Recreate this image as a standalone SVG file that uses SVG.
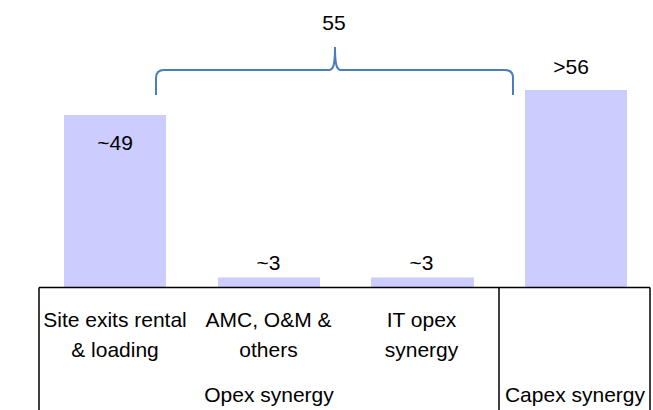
<svg xmlns="http://www.w3.org/2000/svg" width="653" height="410" viewBox="0 0 653 410">
<style>
.bar{fill:#CCCCFF;stroke:none}
.t{font-family:"Liberation Sans",Arial,sans-serif;font-size:21px;fill:#000;text-anchor:middle}
.grid{stroke:#000;stroke-width:1.5;fill:none}
.brace{stroke:#4A7EBB;stroke-width:2;fill:none}
</style>
<rect width="653" height="410" fill="#fff"/>
<g id="bar-site-exits">
<rect class="bar" x="64" y="115" width="102" height="172"/>
<text class="t" x="115" y="150">~49</text>
</g>
<g id="bar-amc">
<rect class="bar" x="218" y="277.5" width="102" height="9.5"/>
<text class="t" x="268.5" y="269.5">~3</text>
</g>
<g id="bar-it-opex">
<rect class="bar" x="371" y="277.5" width="103" height="9.5"/>
<text class="t" x="421.5" y="269.5">~3</text>
</g>
<g id="bar-capex">
<rect class="bar" x="525" y="90" width="102" height="197"/>
<text class="t" x="571" y="74">&gt;56</text>
</g>
<g id="connectors">
<path class="brace" d="M156,95 L156,78 Q156,70 164,70 L329,70 C333,70 335,66 335,47 C335,66 337,70 341,70 L505,70 Q513,70 513,78 L513,95"/>
</g>
<g id="brace-label">
<text class="t" x="334" y="29.5">55</text>
</g>
<g id="table">
<path class="grid" d="M39,287.5 L650,287.5 M39,287.5 L39,410 M499,287.5 L499,410 M650,287.5 L650,410"/>
<text class="t" x="115" y="326.5">Site exits rental</text>
<text class="t" x="115" y="356.5">&amp; loading</text>
<text class="t" x="268.5" y="326.5">AMC, O&amp;M &amp;</text>
<text class="t" x="268.5" y="356.5">others</text>
<text class="t" x="421.5" y="326.5">IT opex</text>
<text class="t" x="421.5" y="356.5">synergy</text>
<text class="t" x="269" y="401.5">Opex synergy</text>
<text class="t" x="575" y="401.5">Capex synergy</text>
</g>
</svg>
